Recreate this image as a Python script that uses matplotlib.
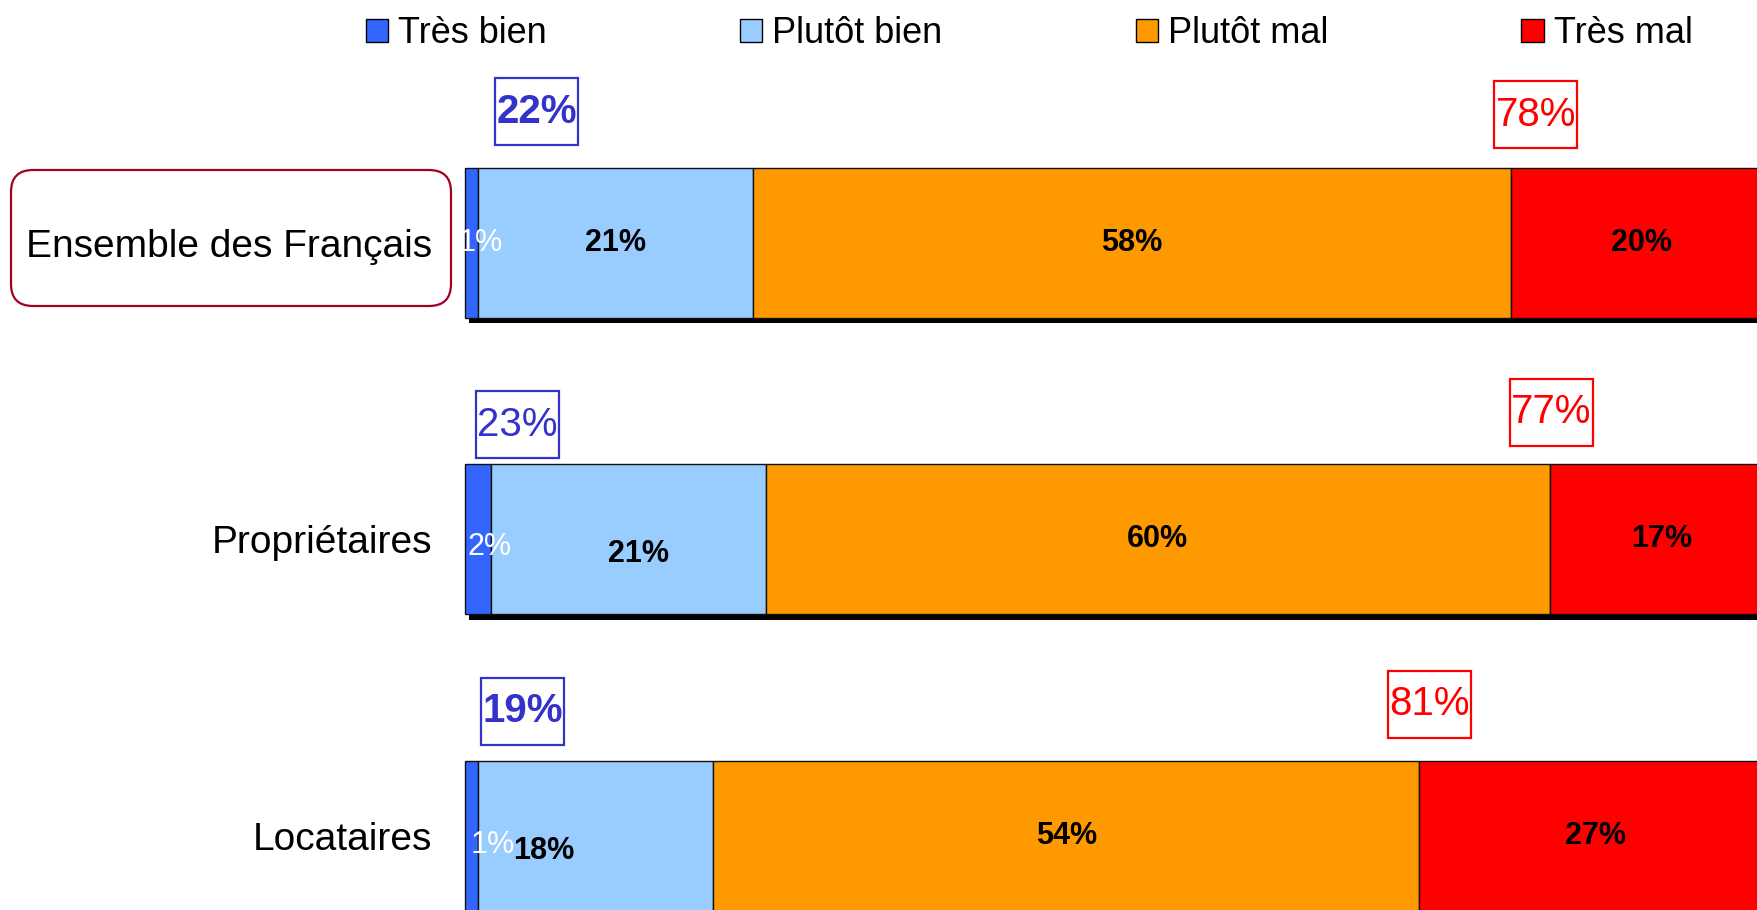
import matplotlib.pyplot as plt
import matplotlib.patches as mpatches
import matplotlib.patheffects as pe
from matplotlib.path import Path
from matplotlib.transforms import IdentityTransform
import numpy as np

plt.rcParams['font.family'] = ['Liberation Sans', 'DejaVu Sans']

groups = ['Ensemble des Français', 'Propriétaires', 'Locataires']
answers = ['Très bien', 'Plutôt bien', 'Plutôt mal', 'Très mal']
tres_bien = [1, 2, 1]
plutot_bien = [21, 21, 18]
plutot_mal = [58, 60, 54]
tres_mal = [20, 17, 27]
total_bien = [22, 23, 19]
total_mal = [78, 77, 81]

colors = ['#3366FF', '#99CCFF', '#FF9900', '#FF0000']
text_colors = ['white', 'black', 'black', 'black']

# where the total boxes sit (as in the original, placed by hand)
bien_box_x = [5.5, 4.0, 4.4]
bien_box_dy = [-0.441, -0.387, -0.421]
mal_box_dx = [1.9, 0.1, 0.8]
mal_box_dy = [-0.431, -0.428, -0.444]


def tall_box(x0, y0, width, height, mutation_size):
    # square frame with more room above/below than at the sides
    px, py = 0.03 * mutation_size, 0.36 * mutation_size
    x0, y0 = x0 - px, y0 - py
    x1, y1 = x0 + width + 2 * px, y0 + height + 2 * py
    return Path([(x0, y0), (x1, y0), (x1, y1), (x0, y1), (x0, y0)], closed=True)


fig = plt.figure(figsize=(17.58, 9.10), dpi=100)
ax = fig.add_axes([0.2630, 0, 0.7370, 1])

y = np.arange(len(groups))
series = [tres_bien, plutot_bien, plutot_mal, tres_mal]
shadow = [pe.SimplePatchShadow(offset=(3, -4.2), shadow_rgbFace='black', alpha=1), pe.Normal()]

# some labels sit off-centre in the original: (dx in %, dy in points)
nudge = {(0, 0): (0.7, 0), (0, 1): (0.9, -5.5), (0, 2): (1.6, -6.5),
         (1, 1): (0.8, -10.5), (1, 2): (-4.0, -10.5)}

left = np.zeros(len(groups))
for i, vals in enumerate(series):
    vals = np.array(vals)
    ax.barh(y, vals, left=left, height=0.505, color=colors[i],
            edgecolor='#111111', lw=1, path_effects=shadow)
    for j in range(len(groups)):
        dx, dy = nudge.get((i, j), (0, 0))
        ax.annotate(f'{vals[j]}%', (left[j] + vals[j] / 2 + dx, y[j]),
                    xytext=(0, dy), textcoords='offset points',
                    ha='center', va='center', fontsize=22,
                    fontweight='normal' if i == 0 else 'bold',
                    color=text_colors[i])
    left += vals

# totals in boxes above the bars
for j in range(len(groups)):
    ax.text(bien_box_x[j], y[j] + bien_box_dy[j], f'{total_bien[j]}%',
            ha='center', va='center', fontsize=29,
            color='#3333CC', fontweight='bold' if j != 1 else 'normal',
            bbox=dict(boxstyle=tall_box, fc='white', ec='#3333CC', lw=1.6))
    red_start = 100 - tres_mal[j]
    ax.text(red_start + mal_box_dx[j], y[j] + mal_box_dy[j], f'{total_mal[j]}%',
            ha='center', va='center', fontsize=29, color='#FF0000',
            bbox=dict(boxstyle=tall_box, fc='white', ec='#FF0000', lw=1.6))

ax.set_xlim(-0.2, 98.9)
ax.set_ylim(2.249, -0.818)
ax.set_yticks(y, groups)
ax.set_xticks([])
ax.tick_params(axis='y', length=0, pad=21.6, labelsize=28)
for s in ax.spines.values():
    s.set_visible(False)

# rounded frame round the first group name
frame = mpatches.FancyBboxPatch((11, 604), 440, 136,
                                boxstyle='round,pad=0,rounding_size=22',
                                transform=IdentityTransform(), fc='none',
                                ec='#A50021', lw=1.6)
fig.add_artist(frame)

handles = [mpatches.Patch(facecolor=c, edgecolor='black', lw=1) for c in colors]
fig.legend(handles, answers, loc='center', bbox_to_anchor=(0.5855, 0.963), ncol=4,
           frameon=False, fontsize=26, handlelength=0.61, handleheight=0.61,
           handletextpad=0.28, columnspacing=5.35, borderpad=0)

fig.savefig('out.png', dpi=100)
